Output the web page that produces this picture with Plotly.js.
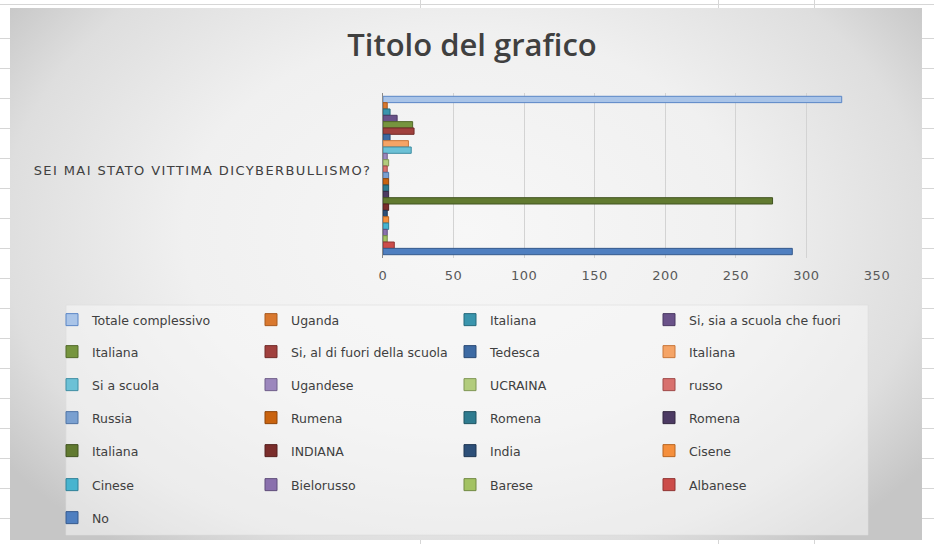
<!DOCTYPE html>
<html><head><meta charset="utf-8">
<script src="https://cdn.plot.ly/plotly-3.0.1.min.js"></script>
<style>
html,body{margin:0;padding:0;width:934px;height:544px;overflow:hidden;background:#fff;}
#sheet{position:absolute;left:0;top:0;width:934px;height:544px;
  background-image:repeating-linear-gradient(to bottom, transparent 0px, transparent 29px, #d6d6d6 29px, #d6d6d6 30px);
  background-position:0 9px;}
.vl{position:absolute;top:0;width:1px;height:544px;background:#d6d6d6;}
#frame{position:absolute;left:10px;top:8px;width:912px;height:532px;
  background:radial-gradient(ellipse 62% 75% at 50% 42%, #f7f7f7 0%, #f0f0f0 50%, #dedede 82%, #c6c6c6 100%);}
#chart{position:absolute;left:0;top:0;width:934px;height:544px;}
#chart .ytick text{letter-spacing:1.4px;}
#chart .xtick text{letter-spacing:0.5px;}
</style></head>
<body>
<div id="sheet"></div>
<div class="vl" style="left:420px"></div>
<div class="vl" style="left:718px"></div>
<div class="vl" style="left:814px"></div>
<div id="frame"></div>
<div id="chart"></div>
<script>
const categories = ["SEI MAI STATO VITTIMA DICYBERBULLISMO?"];
const seriesNames = [
  "Totale complessivo", "Uganda", "Italiana", "Si, sia a scuola che fuori",
  "Italiana", "Si, al di fuori della scuola", "Tedesca", "Italiana",
  "Si a scuola", "Ugandese", "UCRAINA", "russo",
  "Russia", "Rumena", "Romena", "Romena",
  "Italiana", "INDIANA", "India", "Cisene",
  "Cinese", "Bielorusso", "Barese", "Albanese",
  "No"
];
const seriesValues = [
  325, 3, 5, 10,
  21, 22, 5, 18,
  20, 3, 4, 3,
  4, 4, 4, 4,
  276, 4, 3, 4,
  4, 3, 3, 8,
  290
];
const xTickValues = [0, 50, 100, 150, 200, 250, 300, 350];
const chartTitle = "Titolo del grafico";

const fillColors = [
  "#a9c4e8", "#d9782e", "#3a95ad", "#6a5289",
  "#76953e", "#a0403d", "#3d6aa3", "#f5a466",
  "#6cc1d6", "#9c87bd", "#b2cc7d", "#d8716e",
  "#7aa0d0", "#c9630f", "#2f7b8f", "#4c3a63",
  "#617a30", "#7a2d2b", "#2d4f78", "#f58f3c",
  "#47b4cf", "#8a70ad", "#a3c263", "#cc4d4a",
  "#4f7fc0"
];
const lineColors = [
  "#5b86c6", "#a85a1f", "#256a7c", "#4b3963",
  "#536a2a", "#722b29", "#2a4a75", "#c9763a",
  "#3f8ea3", "#6f5e8a", "#7f9655", "#9f4a48",
  "#4f74a5", "#8f4509", "#1f5563", "#352842",
  "#425421", "#561f1e", "#1e3653", "#b86520",
  "#2f8097", "#5f4d7a", "#728a44", "#913533",
  "#365a8d"
];

const traces = seriesNames.map((name, i) => ({
  type: "bar",
  orientation: "h",
  name: name,
  x: [seriesValues[i]],
  y: categories,
  marker: {color: fillColors[i], line: {color: lineColors[i], width: 1}},
  legend: i < 4 ? "legend" : "legend" + (Math.floor(i / 4) + 1),
  hoverinfo: "x+name"
}));

// plot area: x 383..877 px, y 93..258 px
const plotTop = 93, plotBottom = 258, plotLeft = 383, plotRight = 877;
const ph = plotBottom - plotTop, pw = plotRight - plotLeft;
const py = v => (plotBottom - v) / ph;
const px = v => (v - plotLeft) / pw;

const rowY = [320, 352, 385, 418, 451, 485, 518];
const legendFont = {family: "DejaVu Sans, Noto Sans, sans-serif", size: 12.5, color: "#404040"};

const layout = {
  width: 934, height: 544,
  paper_bgcolor: "rgba(0,0,0,0)",
  plot_bgcolor: "rgba(0,0,0,0)",
  margin: {l: plotLeft, r: 934 - plotRight, t: plotTop, b: 544 - plotBottom, pad: 0},
  barmode: "group",
  bargap: 0.04,
  bargroupgap: 0,
  title: {
    text: chartTitle,
    x: 472 / 934, xref: "container", xanchor: "center",
    y: 1 - 45 / 544, yref: "container", yanchor: "middle",
    font: {family: "Open Sans, Noto Sans, sans-serif", size: 31, color: "#404040", weight: 600}
  },
  xaxis: {
    range: [0, 350],
    tickvals: xTickValues,
    ticktext: xTickValues.map(String),
    showgrid: true, gridcolor: "#d3d3d3", gridwidth: 1,
    zeroline: false, showline: false, ticks: "",
    ticklabelstandoff: 8,
    tickfont: {family: "DejaVu Sans, Noto Sans, sans-serif", size: 13, color: "#595959"},
    fixedrange: true
  },
  yaxis: {
    type: "category",
    autorange: "reversed",
    showline: true, linecolor: "#8a8a8a", linewidth: 1,
    showgrid: false, ticks: "",
    ticklabelstandoff: 8,
    ticklabelshift: 5,
    tickfont: {family: "DejaVu Sans, Noto Sans, sans-serif", size: 13, color: "#404040"},
    fixedrange: true
  },
  shapes: [{
    type: "rect", xref: "paper", yref: "paper", layer: "below",
    x0: px(66), x1: px(868), y0: py(305), y1: py(535),
    fillcolor: "rgba(247,247,247,0.55)", line: {color: "rgba(220,220,220,0.6)", width: 1}
  }],
  showlegend: true
};

rowY.forEach((y, r) => {
  const key = r === 0 ? "legend" : "legend" + (r + 1);
  layout[key] = {
    orientation: "h",
    x: px(52), xanchor: "left",
    y: py(y), yanchor: "middle",
    entrywidth: 154, entrywidthmode: "pixels",
    bgcolor: "rgba(0,0,0,0)", borderwidth: 0,
    font: legendFont,
    traceorder: "normal",
    itemclick: false, itemdoubleclick: false
  };
});

Plotly.newPlot("chart", traces, layout, {displayModeBar: false, staticPlot: true});
</script>
</body></html>
